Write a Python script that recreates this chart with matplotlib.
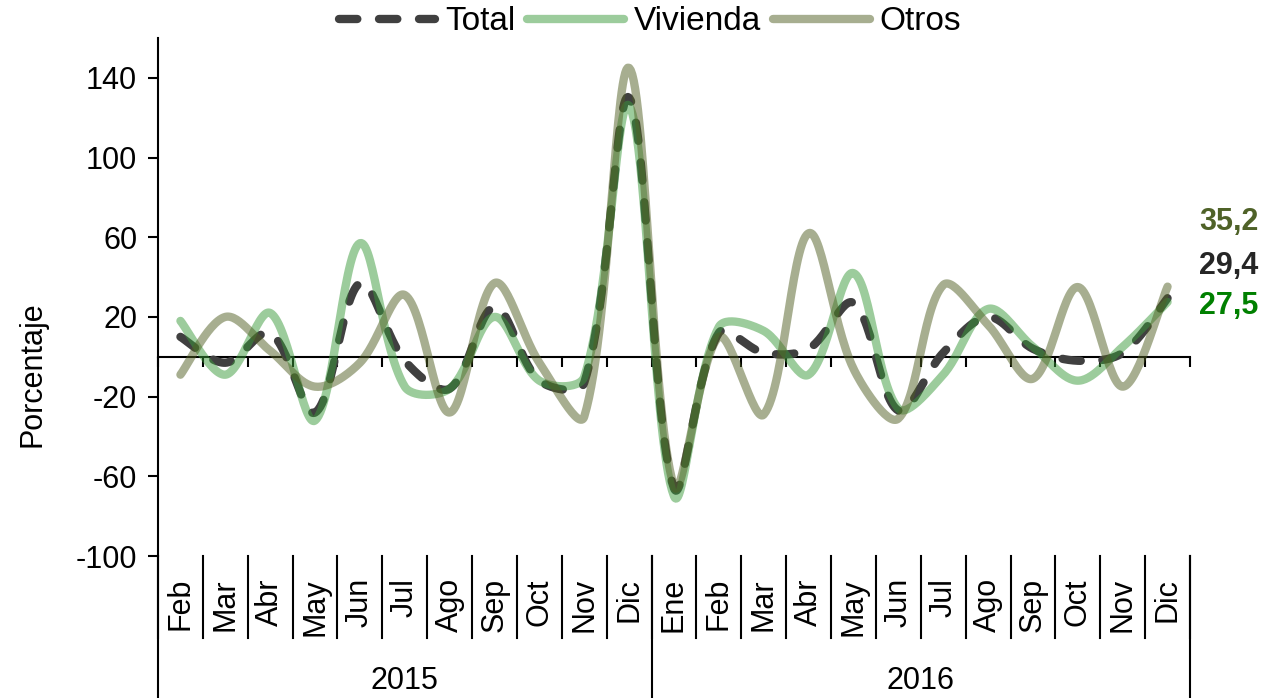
import numpy as np
import matplotlib
matplotlib.use("Agg")
import matplotlib.pyplot as plt
from matplotlib.lines import Line2D
import matplotlib.transforms as mtrans

plt.rcParams['font.family'] = ['Liberation Sans', 'DejaVu Sans']

months = ["Feb", "Mar", "Abr", "May", "Jun", "Jul", "Ago", "Sep", "Oct", "Nov", "Dic",
          "Ene", "Feb", "Mar", "Abr", "May", "Jun", "Jul", "Ago", "Sep", "Oct", "Nov", "Dic"]
years = ["2015", "2016"]
year_counts = [11, 12]

total = [10, -3, 12, -28, 37, -2, -16, 25, -12, -13, 130,
         -66, 12, 2, 4, 27, -27, 2, 20, 4, -2, 2, 29.4]
vivienda = [18, -9, 22, -32, 57, -15, -16, 20, -12, -10, 126,
            -70, 15, 13, -9, 42, -26, -9, 24, 5, -12, 5, 27.5]
otros = [-9, 20, 3, -15, -3, 31, -28, 37, -3, -30, 145,
         -65, 10, -29, 62, -6, -31, 36, 16, -11, 35, -15, 35.2]

end_labels = ["35,2", "29,4", "27,5"]
yticks = [-100, -60, -20, 20, 60, 100, 140]

W, H = 1268, 698
AX_L, AX_R, AX_T, AX_B = 158, 1190, 38, 556
YMIN, YMAX = -100, 160


def smooth(y, n=30):
    """Excel-style smoothed line: cubic Bezier segments whose control points
    are scaled by the neighbouring chord lengths (computed in screen space)."""
    y = np.asarray(y, float)
    m = len(y)
    sx = (AX_R - AX_L) / m
    sy = (AX_B - AX_T) / (YMAX - YMIN)
    P = np.column_stack([np.arange(m) * sx, y * sy])
    cin = np.zeros_like(P)
    cout = np.zeros_like(P)
    for i in range(m):
        a = P[max(i - 1, 0)]
        b = P[min(i + 1, m - 1)]
        T = b - a
        d1 = np.hypot(*(P[i] - a))
        d2 = np.hypot(*(b - P[i]))
        if i == 0 or i == m - 1:
            cin[i] = P[i] - T / 6
            cout[i] = P[i] + T / 6
        else:
            s = d1 + d2
            cin[i] = P[i] - T * (1 / 3) * d1 / s
            cout[i] = P[i] + T * (1 / 3) * d2 / s
    t = np.linspace(0, 1, n, endpoint=False)[:, None]
    pts = []
    for i in range(m - 1):
        p0, p1, p2, p3 = P[i], cout[i], cin[i + 1], P[i + 1]
        pts.append((1 - t) ** 3 * p0 + 3 * (1 - t) ** 2 * t * p1 + 3 * (1 - t) * t ** 2 * p2 + t ** 3 * p3)
    pts.append(P[-1][None, :])
    pts = np.vstack(pts)
    return pts[:, 0] / sx, pts[:, 1] / sy


fig = plt.figure(figsize=(W / 100, H / 100), dpi=100)
ax = fig.add_axes([AX_L / W, 1 - AX_B / H, (AX_R - AX_L) / W, (AX_B - AX_T) / H])

n = len(months)
ax.set_xlim(-0.5, n - 0.5)
ax.set_ylim(YMIN, YMAX)

c_total = '#404040'
c_viv = '#3a9a3a'
c_otr = '#515f23'

lw = 6
DASH = (2.2, 2.6)
xs, ys = smooth(total)
lt, = ax.plot(xs, ys, color=c_total, lw=lw, dash_capstyle='round', solid_capstyle='round', zorder=3)
lt.set_dashes(DASH)
xs, ys = smooth(vivienda)
ax.plot(xs, ys, color=c_viv, lw=lw, alpha=0.5, solid_capstyle='round', zorder=4)
xs, ys = smooth(otros)
ax.plot(xs, ys, color=c_otr, lw=lw, alpha=0.5, solid_capstyle='round', zorder=4)

FS = 22
for s in ['top', 'right']:
    ax.spines[s].set_visible(False)
ax.spines['bottom'].set_position(('data', 0))
ax.spines['bottom'].set_linewidth(1.5)
ax.spines['left'].set_linewidth(1.5)
ax.spines['bottom'].set_zorder(2)
ax.set_xticks(np.arange(n + 1) - 0.5)
ax.set_xticklabels([])
ax.tick_params(axis='x', direction='out', length=7, width=1.5)
ax.set_yticks(yticks)
ax.set_yticklabels([str(v) for v in yticks], fontsize=FS)
ax.tick_params(axis='y', direction='out', length=7, width=1.5, pad=8)
ax.set_ylabel("Porcentaje", fontsize=FS)
ax.yaxis.set_label_coords(-(AX_L - 47) / (AX_R - AX_L), (AX_B - 374) / (AX_B - AX_T))

tr = mtrans.blended_transform_factory(ax.transData, ax.transAxes)
ah = AX_B - AX_T
for i, mth in enumerate(months):
    ax.text(i, -(578 - AX_B) / ah, mth, rotation=90, ha='center', va='top',
            fontsize=FS, transform=tr, clip_on=False)
for b in np.arange(n + 1) - 0.5:
    ax.add_line(Line2D([b, b], [0, -(638 - AX_B) / ah], transform=tr, color='black',
                       lw=1.5, clip_on=False))
bounds = [-0.5]
for cnt in year_counts:
    bounds.append(bounds[-1] + cnt)
for b in bounds:
    ax.add_line(Line2D([b, b], [0, -(700 - AX_B) / ah], transform=tr, color='black',
                       lw=1.5, clip_on=False))
for k, yr in enumerate(years):
    ax.text((bounds[k] + bounds[k + 1]) / 2, -(681 - AX_B) / ah, yr, ha='center', va='center',
            fontsize=FS, transform=tr, clip_on=False)

lab_colors = ['#4f6228', '#262626', '#008000']
lab_y = [222, 266, 306]
for t, c, yy in zip(end_labels, lab_colors, lab_y):
    fig.text(1199 / W, 1 - yy / H, t, color=c, fontsize=FS, fontweight='bold',
             ha='left', va='center')

h1 = Line2D([], [], color=c_total, lw=lw, dash_capstyle='round')
h1.set_dashes(DASH)
h2 = Line2D([], [], color=c_viv, lw=lw, alpha=0.5, solid_capstyle='round')
h3 = Line2D([], [], color=c_otr, lw=lw, alpha=0.5, solid_capstyle='round')
fig.legend([h1, h2, h3], ["Total", "Vivienda", "Otros"], loc='center',
           bbox_to_anchor=(650 / W, 1 - 22 / H), ncol=3, frameon=False, fontsize=24,
           handlelength=2.9, handletextpad=0.3, columnspacing=0.35, borderpad=0)

fig.savefig("out.png", dpi=100)
